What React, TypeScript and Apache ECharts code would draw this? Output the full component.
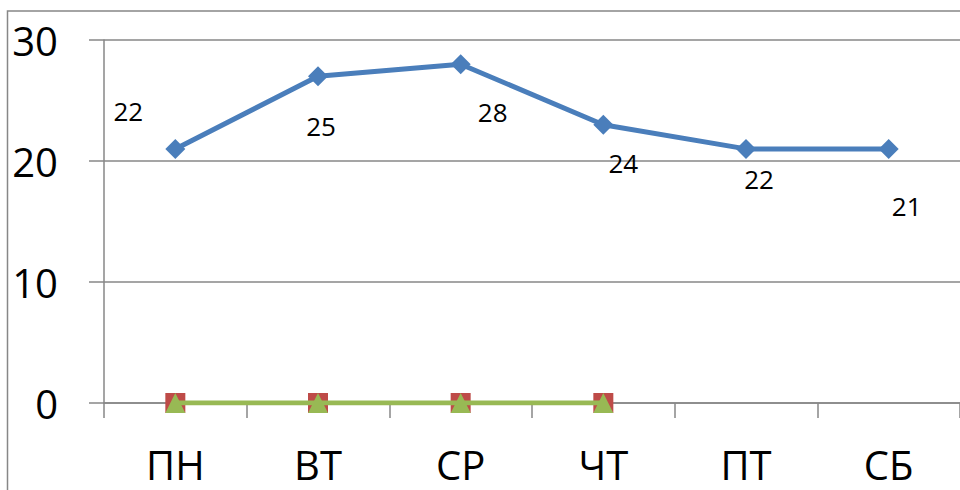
import React, { useEffect, useRef } from "react";
import * as echarts from "echarts";

const categories = ["ПН", "ВТ", "СР", "ЧТ", "ПТ", "СБ"];
const blueValues = [21, 27, 28, 23, 21, 21];
const blueLabels = [22, 25, 28, 24, 22, 21];
const redValues = [0, 0, 0, 0, null, null];
const greenValues = [0, 0, 0, 0, null, null];
const yTicks = { min: 0, max: 30, interval: 10 };

const labelOffsets: [number, number][] = [
  [-47, -38],
  [3, 50],
  [32, 48],
  [20, 38],
  [13, 30],
  [18, 57],
];

const FONT = "Open Sans";
const GRAY = "#878787";

export default function App() {
  const ref = useRef<HTMLDivElement>(null);
  useEffect(() => {
    document.body.style.margin = "0";
    const chart = echarts.init(ref.current!, null, { renderer: "svg" });
    chart.setOption({
      animation: false,
      backgroundColor: "#ffffff",
      grid: { left: 104, top: 40, width: 858, height: 363, containLabel: false },
      graphic: [
        {
          type: "rect",
          shape: { x: 7.5, y: 11, width: 1100, height: 1000 },
          style: { fill: "none", stroke: GRAY, lineWidth: 1.5 },
          z: -1,
        },
      ],
      xAxis: {
        type: "category",
        data: categories,
        boundaryGap: true,
        axisLine: { show: true, lineStyle: { color: GRAY, width: 1.5 } },
        axisTick: { show: true, length: 15, lineStyle: { color: GRAY, width: 1.5 } },
        axisLabel: {
          fontFamily: FONT,
          fontSize: 40,
          color: "#000",
          margin: 61,
          verticalAlign: "middle",
        },
      },
      yAxis: {
        type: "value",
        min: yTicks.min,
        max: yTicks.max,
        interval: yTicks.interval,
        axisLine: { show: true, lineStyle: { color: GRAY, width: 1.5 } },
        axisTick: { show: true, length: 15, lineStyle: { color: GRAY, width: 1.5 } },
        splitLine: { show: true, lineStyle: { color: GRAY, width: 1.5 } },
        axisLabel: {
          fontFamily: FONT,
          fontSize: 40,
          color: "#000",
          margin: 46,
        },
      },
      series: [
        {
          type: "line",
          data: blueValues.map((v, i) => ({
            value: v,
            label: {
              show: true,
              formatter: String(blueLabels[i]),
              offset: labelOffsets[i],
            },
          })),
          symbol: "diamond",
          symbolSize: 20,
          lineStyle: { color: "#4a7ebb", width: 5 },
          itemStyle: { color: "#4a7ebb" },
          label: {
            position: "inside",
            fontFamily: FONT,
            fontSize: 26,
            color: "#000",
            align: "center",
            verticalAlign: "middle",
          },
          z: 3,
        },
        {
          type: "line",
          data: redValues,
          symbol: "rect",
          symbolSize: 20,
          lineStyle: { color: "#be4b48", width: 4 },
          itemStyle: { color: "#be4b48" },
          z: 4,
        },
        {
          type: "line",
          data: greenValues,
          symbol: "triangle",
          symbolSize: 20,
          lineStyle: { color: "#98b954", width: 5 },
          itemStyle: { color: "#98b954" },
          z: 5,
        },
      ],
    });
    return () => chart.dispose();
  }, []);
  return (
    <div
      ref={ref}
      style={{ position: "absolute", left: 0, top: 0, width: 960, height: 490 }}
    />
  );
}
